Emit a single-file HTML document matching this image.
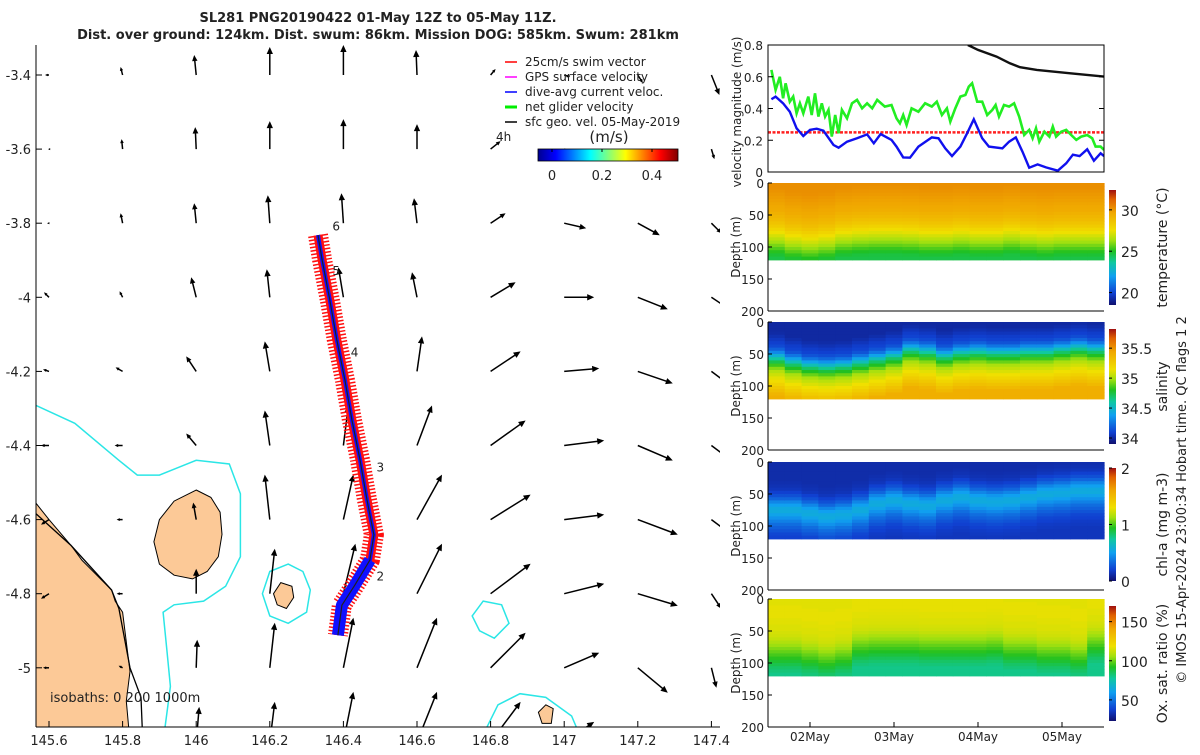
<!DOCTYPE html>
<html><head><meta charset="utf-8"><style>
body{margin:0;background:#fff;}
svg text{font-family:"DejaVu Sans","Liberation Sans",sans-serif;fill:#222;}
</style></head><body>
<svg id="s" width="1200" height="750" viewBox="0 0 1200 750" xmlns="http://www.w3.org/2000/svg">
<defs>
<clipPath id="mapclip"><rect x="36" y="45" width="684" height="682"/></clipPath>
<clipPath id="velclip"><rect x="768" y="45" width="336" height="127"/></clipPath>
<linearGradient id="jetH" x1="0" x2="1" y1="0" y2="0">
<stop offset="0" stop-color="#00008f"/><stop offset="0.125" stop-color="#0000ff"/><stop offset="0.375" stop-color="#00ffff"/><stop offset="0.625" stop-color="#ffff00"/><stop offset="0.875" stop-color="#ff0000"/><stop offset="1" stop-color="#800000"/></linearGradient>
<linearGradient id="cmV" x1="0" x2="0" y1="1" y2="0">
<stop offset="0" stop-color="#10106e"/><stop offset="0.1" stop-color="#1040d0"/><stop offset="0.25" stop-color="#10a0f0"/><stop offset="0.37" stop-color="#10c8a0"/><stop offset="0.47" stop-color="#20c020"/><stop offset="0.56" stop-color="#a0e010"/><stop offset="0.65" stop-color="#f0e000"/><stop offset="0.8" stop-color="#f0a800"/><stop offset="0.92" stop-color="#e06000"/><stop offset="1" stop-color="#a01010"/></linearGradient>
</defs>
<text x="378" y="22" text-anchor="middle" font-size="13" font-weight="bold">SL281 PNG20190422 01-May 12Z to 05-May 11Z.</text>
<text x="378" y="39" text-anchor="middle" font-size="13" font-weight="bold">Dist. over ground: 124km. Dist. swum: 86km. Mission DOG: 585km. Swum: 281km</text>
<g id="map"></g>
<g id="vel"></g>
<g id="sec"></g>
<text transform="translate(1186,500) rotate(-90)" text-anchor="middle" font-size="13">© IMOS 15-Apr-2024 23:00:34 Hobart time. QC flags 1  2</text>
</svg>
<script>
// ---------- map data ----------
const lonTicks=[145.6,145.8,146,146.2,146.4,146.6,146.8,147,147.2,147.4];
const latTicks=[-3.4,-3.6,-3.8,-4,-4.2,-4.4,-4.6,-4.8,-5];
const arrowLons=[145.6,145.8,146,146.2,146.4,146.6,146.8,147,147.2,147.4];
const arrowLats=[-3.4,-3.6,-3.8,-4,-4.2,-4.4,-4.6,-4.8,-5,-5.2];
const arrowU=[
[-0.04,-0.02,-0.02,0,0,-0.01,0.05,0.06,0.05,0.08],
[-0.01,-0.01,-0.01,0,0,0,0.1,0.12,0.02,0.03],
[-0.02,-0.02,-0.02,-0.02,-0.02,-0.03,0.15,0.22,0.22,0.1],
[-0.05,-0.03,-0.05,-0.03,-0.05,-0.05,0.25,0.3,0.3,0.15],
[-0.06,-0.07,-0.1,-0.05,-0.05,0.05,0.3,0.35,0.35,0.2],
[-0.08,-0.08,-0.1,-0.05,0.05,0.15,0.35,0.4,0.35,0.2],
[-0.08,-0.06,-0.03,-0.05,0.1,0.25,0.4,0.4,0.4,0.2],
[-0.08,-0.06,0,0.05,0.12,0.25,0.4,0.4,0.4,0.1],
[-0.06,-0.04,0.01,0.05,0.1,0.2,0.35,0.35,0.3,0.05],
[0,0,0.03,0.05,0.1,0.2,0.3,0.3,0.2,0.02]];
const arrowV=[
[0,0.08,0.2,0.28,0.3,0.25,0.06,-0.02,-0.08,-0.2],
[0,0.1,0.22,0.28,0.3,0.25,0.08,-0.05,-0.1,-0.1],
[0,0.1,0.2,0.28,0.3,0.25,0.1,-0.05,-0.12,-0.1],
[0.05,0.06,0.2,0.28,0.3,0.25,0.15,0,-0.12,-0.1],
[0.02,0.04,0.15,0.3,0.3,0.35,0.2,0.03,-0.12,-0.15],
[0,0,0.12,0.35,0.4,0.4,0.25,0.05,-0.15,-0.15],
[-0.05,0,0.17,0.45,0.45,0.45,0.25,0.05,-0.15,-0.15],
[-0.05,0,0.25,0.45,0.5,0.5,0.3,0.1,-0.12,-0.15],
[0,0.02,0.28,0.45,0.5,0.5,0.35,0.15,-0.25,-0.2],
[0,0.02,0.35,0.4,0.5,0.5,0.4,0.2,-0.3,-0.2]];
const trackLon=[146.331,146.342,146.363,146.382,146.404,146.423,146.445,146.464,146.483,146.472,146.431,146.396,146.385];
const trackLat=[-3.832,-3.899,-4.007,-4.115,-4.223,-4.331,-4.439,-4.547,-4.641,-4.709,-4.777,-4.831,-4.912];
const dayLabels=["2","3","4","5","6"];
const dayLon=[146.49,146.49,146.42,146.37,146.37];
const dayLat=[-4.765,-4.47,-4.16,-3.94,-3.82];
const mainland=[[145.56,-4.55],[145.6,-4.6],[145.66,-4.67],[145.69,-4.71],[145.73,-4.75],[145.77,-4.79],[145.78,-4.82],[145.8,-4.85],[145.81,-4.93],[145.82,-5.01],[145.81,-5.09],[145.82,-5.2],[145.56,-5.2]];
const coastLine=[[145.56,-4.58],[145.66,-4.67],[145.77,-4.79],[145.79,-4.84],[145.82,-5.0],[145.85,-5.08],[145.855,-5.2]];
const island1=[[146.0,-4.52],[146.04,-4.54],[146.065,-4.58],[146.07,-4.64],[146.06,-4.7],[146.03,-4.74],[145.99,-4.76],[145.94,-4.75],[145.9,-4.72],[145.885,-4.66],[145.9,-4.6],[145.94,-4.55]];
const island2=[[146.23,-4.77],[146.26,-4.78],[146.265,-4.81],[146.245,-4.84],[146.22,-4.83],[146.21,-4.8]];
const island3=[[146.95,-5.1],[146.97,-5.11],[146.965,-5.15],[146.94,-5.15],[146.93,-5.12]];
const cyan1=[[145.56,-4.29],[145.67,-4.34],[145.79,-4.44],[145.84,-4.48],[145.9,-4.48],[145.95,-4.46],[146.0,-4.44],[146.09,-4.45],[146.12,-4.53],[146.12,-4.7],[146.08,-4.78],[146.02,-4.82],[145.94,-4.83],[145.91,-4.85],[145.92,-4.95],[145.93,-5.05],[145.91,-5.2]];
const cyan2=[[146.25,-4.72],[146.29,-4.74],[146.31,-4.79],[146.3,-4.85],[146.25,-4.88],[146.2,-4.86],[146.18,-4.8],[146.2,-4.74]];
const cyan3=[[146.78,-4.82],[146.83,-4.83],[146.85,-4.88],[146.81,-4.92],[146.77,-4.9],[146.75,-4.86]];
const cyan4=[[146.77,-5.2],[146.82,-5.1],[146.88,-5.07],[146.95,-5.08],[147.02,-5.13],[147.05,-5.2]];
// ---------- velocity data ----------
const netT=[0.04,0.09,0.14,0.18,0.21,0.26,0.30,0.34,0.38,0.42,0.48,0.52,0.56,0.60,0.64,0.68,0.72,0.76,0.80,0.84,0.88,0.94,1.00,1.06,1.12,1.18,1.24,1.30,1.39,1.47,1.53,1.57,1.61,1.65,1.71,1.79,1.87,1.95,2.01,2.07,2.13,2.17,2.23,2.29,2.35,2.39,2.43,2.49,2.55,2.61,2.67,2.71,2.75,2.81,2.87,2.93,2.99,3.05,3.11,3.15,3.19,3.23,3.29,3.35,3.39,3.43,3.49,3.55,3.61,3.67,3.73,3.80,3.86,3.90,3.96,4.0];
const netV=[0.643,0.517,0.60,0.464,0.559,0.443,0.475,0.37,0.433,0.37,0.475,0.359,0.496,0.349,0.433,0.349,0.391,0.223,0.359,0.244,0.391,0.338,0.433,0.454,0.401,0.433,0.401,0.454,0.412,0.422,0.338,0.307,0.359,0.296,0.401,0.38,0.433,0.412,0.443,0.359,0.401,0.317,0.401,0.475,0.485,0.538,0.559,0.443,0.443,0.359,0.391,0.422,0.349,0.422,0.412,0.433,0.349,0.233,0.265,0.212,0.275,0.191,0.254,0.223,0.286,0.223,0.254,0.265,0.233,0.202,0.223,0.233,0.212,0.16,0.16,0.139];
const dacT=[0.04,0.09,0.18,0.26,0.34,0.42,0.50,0.58,0.66,0.78,0.84,0.94,1.06,1.18,1.26,1.34,1.47,1.53,1.61,1.69,1.79,1.95,2.03,2.11,2.19,2.29,2.37,2.45,2.55,2.63,2.79,2.87,2.95,3.03,3.11,3.21,3.31,3.45,3.55,3.63,3.71,3.80,3.88,3.96,4.0];
const dacV=[0.458,0.475,0.433,0.38,0.275,0.227,0.265,0.273,0.26,0.17,0.153,0.191,0.212,0.237,0.181,0.239,0.202,0.16,0.092,0.09,0.16,0.218,0.212,0.149,0.10,0.16,0.244,0.332,0.212,0.16,0.149,0.191,0.218,0.128,0.027,0.048,0.029,0.008,0.055,0.109,0.10,0.143,0.071,0.118,0.10];
const geoT=[2.38,2.5,2.72,2.88,3.0,3.2,3.6,4.0];
const geoV=[0.80,0.769,0.727,0.685,0.66,0.643,0.622,0.601];
const swimV=[0.25,0.25];
const velTicks=[0,0.2,0.4,0.6,0.8];
const dateTicks=["02May","03May","04May","05May"];
const depthTicks=[0,50,100,150,200];
// ---------- section data ----------
const profDepth=[0,5,10,15,20,25,30,35,40,45,50,55,60,65,70,75,80,85,90,95,100,105,110,115];
const tempProf=[30.2,30.2,30.1,30.0,29.9,29.8,29.7,29.6,29.5,29.3,29.1,28.9,28.6,28.3,27.9,27.5,27.1,26.7,26.3,25.9,25.5,25.1,24.8,24.6];
const tempShift=[0,-6,-9,-6,0,2,3,3,2,0,0,2,0,0,3,0,-2,0,0,0];
const salProf=[34.0,34.0,34.0,34.0,34.02,34.05,34.08,34.1,34.15,34.25,34.4,34.55,34.7,34.8,34.9,35.0,35.05,35.1,35.15,35.2,35.25,35.3,35.35,35.4];
const salShift=[2,-5,-10,-12,-10,-5,0,5,15,12,5,10,12,10,10,12,12,15,18,15];
const chlProf=[0.12,0.12,0.12,0.13,0.14,0.16,0.2,0.25,0.32,0.42,0.5,0.55,0.56,0.52,0.46,0.4,0.34,0.3,0.26,0.22,0.2,0.18,0.17,0.16];
const chlShift=[-15,-15,-20,-25,-22,-15,-5,0,-5,-8,0,5,0,-2,0,5,10,12,15,15];
const oxyProf=[116,116,117,117,117,117,116,116,115,115,114,113,111,108,105,102,99,96,93,90,87,84,82,80];
const oxyShift=[0,0,-5,-10,-5,10,12,12,12,10,10,10,10,12,5,5,0,0,-5,15];
const tempCb=[20,25,30], salCb=[34,34.5,35,35.5], chlCb=[0,1,2], oxyCb=[50,100,150];

const NS='http://www.w3.org/2000/svg';
function mk(tag,attrs,parent){const e=document.createElementNS(NS,tag);for(const k in attrs)e.setAttribute(k,attrs[k]);parent.appendChild(e);return e;}
function txt(s,x,y,attrs,parent){const e=mk('text',Object.assign({x:x,y:y},attrs),parent);e.textContent=s;return e;}
const X=lon=>49+(lon-145.6)/0.2*73.6;
const Y=lat=>75+(-3.4-lat)/0.2*74.1;
const pts=a=>a.map(p=>X(p[0]).toFixed(1)+','+Y(p[1]).toFixed(1)).join(' ');

// ---------- map ----------
const map=document.getElementById('map');
const mc=mk('g',{'clip-path':'url(#mapclip)'},map);
let e;
e=mk('polygon',{points:pts(mainland),fill:'#fcc997',stroke:'#000','stroke-width':1},mc);

e=mk('polyline',{points:pts(coastLine),fill:'none',stroke:'#000','stroke-width':1.3},mc);

[island1,island2,island3].forEach(isl=>{e=mk('polygon',{points:pts(isl),fill:'#fcc997',stroke:'#000','stroke-width':1},mc);
});
[cyan1,cyan2,cyan3,cyan4].forEach((c,i)=>{e=mk(i==1||i==2?'polygon':'polyline',{points:pts(c),fill:'none',stroke:'#2be6e6','stroke-width':1.5},mc);
});
const SC=100;
arrowLats.forEach((lat,r)=>arrowLons.forEach((lon,c)=>{
 const x0=X(lon),y0=Y(lat),dx=arrowU[r][c]*SC,dy=-arrowV[r][c]*SC;
 const L=Math.hypot(dx,dy);if(L<0.5)return;
 const g=mk('g',{},mc);
 
 
 const x1=x0+dx,y1=y0+dy,ux=dx/L,uy=dy/L,h=Math.min(7,2+L*0.2),w=h*0.45;
 mk('line',{x1:x0,y1:y0,x2:x1-ux*h*0.6,y2:y1-uy*h*0.6,stroke:'#000','stroke-width':1.5},g);
 mk('polygon',{points:`${x1},${y1} ${x1-ux*h-uy*w},${y1-uy*h+ux*w} ${x1-ux*h+uy*w},${y1-uy*h-ux*w}`,fill:'#000'},g);
}));
const tp=trackLon.map((l,i)=>X(l).toFixed(1)+','+Y(trackLat[i]).toFixed(1)).join(' ');
e=mk('polyline',{points:tp,fill:'none',stroke:'#ff1010','stroke-width':20,'stroke-dasharray':'1.5 2','stroke-linejoin':'round'},mc);

e=mk('polyline',{points:tp,fill:'none',stroke:'#ff1010','stroke-width':9,'stroke-linejoin':'round'},mc);

e=mk('polyline',{points:tp,fill:'none',stroke:'#1010ff','stroke-width':4,'stroke-linejoin':'round'},mc);

const tail=trackLon.slice(9).map((l,i)=>X(l).toFixed(1)+','+Y(trackLat[9+i]).toFixed(1)).join(' ');
e=mk('polyline',{points:tail,fill:'none',stroke:'#1010ff','stroke-width':12,'stroke-linejoin':'round'},mc);

e=mk('polyline',{points:tp,fill:'none',stroke:'#202020','stroke-width':1.2},mc);

dayLabels.forEach((d,i)=>{e=txt(d,X(dayLon[i]),Y(dayLat[i]),{'font-size':12},mc);
});
e=txt('isobaths: 0 200  1000m',50,702,{'font-size':13},mc);

mk('line',{x1:36,y1:45,x2:36,y2:727,stroke:'#000'},map);
mk('line',{x1:36,y1:727,x2:720,y2:727,stroke:'#000'},map);
lonTicks.forEach(t=>{mk('line',{x1:X(t),y1:727,x2:X(t),y2:721,stroke:'#000'},map);
 e=txt(String(t),X(t),745,{'font-size':13,'text-anchor':'middle'},map);
 });
latTicks.forEach(t=>{mk('line',{x1:36,y1:Y(t),x2:42,y2:Y(t),stroke:'#000'},map);
 e=txt(String(t),31,Y(t)+5,{'font-size':13,'text-anchor':'end'},map);
 });
const legC=['#ff0000','#ff00ff','#0000ff','#00ee00','#000000'];
const legT=['25cm/s swim vector','GPS surface velocity','dive-avg current veloc.','net glider velocity','sfc geo. vel. 05-May-2019'];
legT.forEach((s,i)=>{const g=mk('g',{},map);
 
 const y=62+i*15;mk('line',{x1:505,y1:y,x2:517,y2:y,stroke:legC[i],'stroke-width':i==3?3:1.5},g);
 txt(s,525,y+4,{'font-size':12},g);});
e=txt('(m/s)',609,142,{'font-size':15,'text-anchor':'middle'},map);

e=mk('rect',{x:538,y:149,width:140,height:12,fill:'url(#jetH)',stroke:'#000','stroke-width':0.8},map);

[[0,552],[0.2,602],[0.4,652]].forEach(p=>{mk('line',{x1:p[1],y1:149,x2:p[1],y2:152,stroke:'#000'},map);
 e=txt(String(p[0]),p[1],180,{'font-size':13,'text-anchor':'middle'},map);
 });
e=txt('4h',496,141,{'font-size':12},map);

// ---------- velocity panel ----------
const vel=document.getElementById('vel');
const TX=t=>768+84*t, VY=v=>172-v/0.8*127;
const vc=mk('g',{'clip-path':'url(#velclip)'},vel);
mk('rect',{x:768,y:45,width:336,height:127,fill:'none',stroke:'#000'},vel);
velTicks.forEach(v=>{mk('line',{x1:768,y1:VY(v),x2:773,y2:VY(v),stroke:'#000'},vel);mk('line',{x1:1104,y1:VY(v),x2:1099,y2:VY(v),stroke:'#000'},vel);
 e=txt(String(v),763,VY(v)+5,{'font-size':12,'text-anchor':'end'},vel);});
e=txt('velocity magnitude (m/s)',0,0,{'font-size':12,'text-anchor':'middle',transform:'translate(741,112) rotate(-90)'},vel);

const vl=(T,V)=>T.map((t,i)=>TX(t).toFixed(1)+','+VY(V[i]).toFixed(1)).join(' ');
e=mk('polyline',{points:TX(0)+','+VY(swimV[0])+' '+TX(4.05)+','+VY(swimV[1]),fill:'none',stroke:'#ff2020','stroke-width':2.5,'stroke-dasharray':'3 1.5'},vc);

e=mk('polyline',{points:vl(netT,netV),fill:'none',stroke:'#22ee22','stroke-width':2.6},vc);

e=mk('polyline',{points:vl(dacT,dacV),fill:'none',stroke:'#1010ee','stroke-width':2.4},vc);

e=mk('polyline',{points:vl(geoT,geoV),fill:'none',stroke:'#111','stroke-width':2.4},vc);


// ---------- sections ----------
const sec=document.getElementById('sec');
const cmStops=[[0,[16,16,110]],[0.1,[16,64,208]],[0.25,[16,160,240]],[0.37,[16,200,160]],[0.47,[32,192,32]],[0.56,[160,224,16]],[0.65,[240,224,0]],[0.8,[240,168,0]],[0.92,[224,96,0]],[1,[160,16,16]]];
function cmap(x){x=Math.max(0,Math.min(1,x));for(let i=1;i<cmStops.length;i++){if(x<=cmStops[i][0]){const a=cmStops[i-1],b=cmStops[i],f=(x-a[0])/(b[0]-a[0]);
 return 'rgb('+a[1].map((v,k)=>Math.round(v+(b[1][k]-v)*f)).join(',')+')';}}return 'rgb(160,16,16)';}
function interp(d){if(d<=0)return 0;const i=Math.min(profDepth.length-2,Math.floor(d/5));return i+(d-profDepth[i])/5;}
function section(name,y0,prof,shift,vmin,vmax,cbTicks,label,cbTop,cbBot){
 const g=mk('g',{},sec);
 const DY=d=>y0+d/200*128;const nC=shift.length,cw=336/nC;
 for(let c=0;c<nC;c++){for(let r=0;r<profDepth.length;r++){
  const d=profDepth[r]+shift[c];const f=interp(d);const i=Math.floor(f),fr=f-i;
  const v=prof[Math.min(i,prof.length-1)]*(1-fr)+prof[Math.min(i+1,prof.length-1)]*fr;
  const cell=mk('rect',{x:(768+c*cw).toFixed(1),y:DY(profDepth[r]).toFixed(1),width:(cw+0.6).toFixed(1),height:(128*5/200+0.6).toFixed(1),fill:cmap((v-vmin)/(vmax-vmin))},g);
  
  }}
 mk('line',{x1:768,y1:y0,x2:768,y2:y0+128,stroke:'#000'},g);
 mk('line',{x1:768,y1:y0+128,x2:1104,y2:y0+128,stroke:'#000'},g);
 depthTicks.forEach(d=>{mk('line',{x1:768,y1:DY(d),x2:772,y2:DY(d),stroke:'#000'},g);
  const t=txt(String(d),764,DY(d)+5,{'font-size':12,'text-anchor':'end'},g);});
 const t=txt('Depth (m)',0,0,{'font-size':12,'text-anchor':'middle',transform:`translate(740,${y0+64}) rotate(-90)`},g);
 
 const cb=mk('rect',{x:1109,y:cbTop,width:7,height:cbBot-cbTop,fill:'url(#cmV)'},g);
 
 cbTicks.forEach(v=>{const yy=cbBot-(v-vmin)/(vmax-vmin)*(cbBot-cbTop);
  mk('line',{x1:1109,y1:yy,x2:1112,y2:yy,stroke:'#000'},g);
  const tt=txt(String(v),1121,yy+6,{'font-size':14},g);});
 const lt=txt(label,0,0,{'font-size':14,'text-anchor':'middle',transform:`translate(1167,${(cbTop+cbBot)/2}) rotate(-90)`},g);
 
}
section('temperature',183,tempProf,tempShift,18.5,32.4,tempCb,'temperature (°C)',190,305);
section('salinity',322,salProf,salShift,33.9,35.82,salCb,'salinity',329,444);
section('chlorophyll',462,chlProf,chlShift,0,2,chlCb,'chl-a (mg m-3)',468,581);
section('oxygen',599,oxyProf,oxyShift,23,170,oxyCb,'Ox. sat. ratio (%)',606,721);
dateTicks.forEach((d,i)=>{const x=TX(0.5+i);mk('line',{x1:x,y1:727,x2:x,y2:722,stroke:'#000'},sec);
 const t=txt(d,x,741,{'font-size':12,'text-anchor':'middle'},sec);});
</script>
</body></html>
